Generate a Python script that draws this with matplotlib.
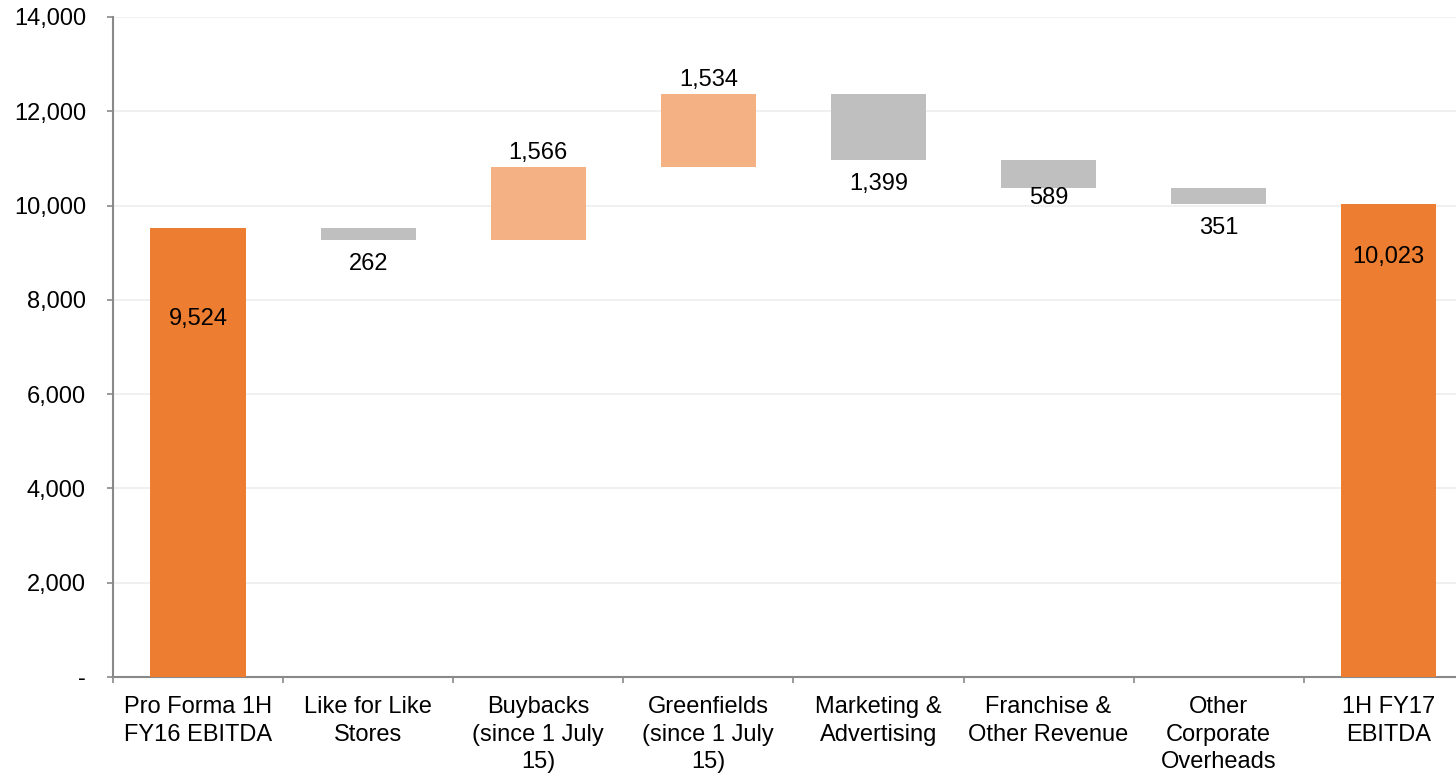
import matplotlib
matplotlib.use("Agg")
import matplotlib.pyplot as plt
from matplotlib.ticker import FixedLocator, FuncFormatter

plt.rcParams['font.family'] = ['Liberation Sans', 'DejaVu Sans']

categories = ["Pro Forma 1H\nFY16 EBITDA", "Like for Like\nStores", "Buybacks\n(since 1 July\n15)",
              "Greenfields\n(since 1 July\n15)", "Marketing &\nAdvertising", "Franchise &\nOther Revenue",
              "Other\nCorporate\nOverheads", "1H FY17\nEBITDA"]
start_value = 9524
changes = [-262, 1566, 1534, -1399, -589, -351]
end_value = 10023

ORANGE = "#ED7D31"
LIGHT = "#F4B183"
GREY = "#BFBFBF"
FS = 17

fig = plt.figure(figsize=(14.56, 7.75), dpi=100)
ax = fig.add_axes([113/1456, 98/775, 1343/1456, 660/775])

width = 0.56
ax.bar(0, start_value, width=width, color=ORANGE, zorder=3)
ax.annotate(f"{start_value:,}", xy=(0, start_value), xytext=(0, -91), textcoords="offset pixels",
            ha="center", va="center", fontsize=FS)

running = start_value
below_offsets = [-24, -24, -10, -24]
bi = 0
for i, ch in enumerate(changes, start=1):
    bottom = running if ch > 0 else running + ch
    color = LIGHT if ch > 0 else GREY
    ax.bar(i, abs(ch), bottom=bottom, width=width, color=color, zorder=3)
    if ch > 0:
        ax.annotate(f"{abs(ch):,}", xy=(i, running + ch), xytext=(0, 14), textcoords="offset pixels",
                    ha="center", va="center", fontsize=FS)
    else:
        ax.annotate(f"{abs(ch):,}", xy=(i, running + ch), xytext=(0, below_offsets[bi]),
                    textcoords="offset pixels", ha="center", va="center", fontsize=FS)
        bi += 1
    running += ch

n = len(categories)
ax.bar(n - 1, end_value, width=width, color=ORANGE, zorder=3)
ax.annotate(f"{end_value:,}", xy=(n - 1, end_value), xytext=(0, -53), textcoords="offset pixels",
            ha="center", va="center", fontsize=FS)

ax.set_xlim(-0.5, -0.5 + 1343/170.1)
ax.set_ylim(0, 14000)
ax.set_yticks(range(0, 14001, 2000))
ax.yaxis.set_major_formatter(FuncFormatter(lambda v, p: "-" if v == 0 else f"{int(v):,}"))
ax.tick_params(axis="y", labelsize=FS, length=4.5, width=1.2, color="#898989", pad=15)
ax.grid(axis="y", color="#EDEDED", linewidth=1.2, zorder=0)

ax.set_xticks(range(n))
ax.set_xticklabels(categories, fontsize=FS, linespacing=1.32)
ax.tick_params(axis="x", which="major", length=0, pad=14)
ax.xaxis.set_minor_locator(FixedLocator([i - 0.5 for i in range(n + 1)]))
ax.tick_params(axis="x", which="minor", length=4.5, width=1.2, color="#898989")

for s in ["top", "right"]:
    ax.spines[s].set_visible(False)
for s in ["left", "bottom"]:
    ax.spines[s].set_color("#898989")
    ax.spines[s].set_linewidth(1.5)

fig.savefig("out.png", dpi=100)
